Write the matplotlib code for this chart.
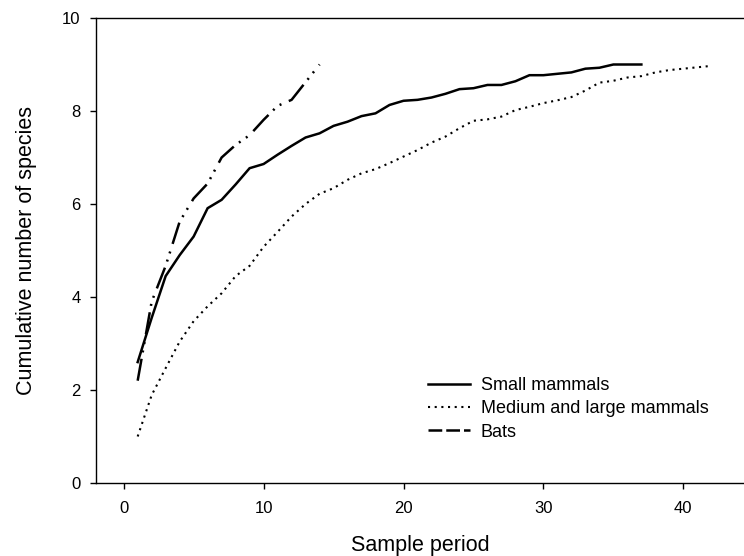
import matplotlib
matplotlib.use("Agg")
import matplotlib.pyplot as plt
from matplotlib.lines import Line2D

plt.rcParams['font.family'] = ['Liberation Sans', 'DejaVu Sans']

# sample periods and cumulative species counts
small_x = list(range(1, 38))
small_y = [2.6, 3.55, 4.45, 4.9, 5.3, 5.91, 6.09, 6.42, 6.77, 6.86,
           7.06, 7.25, 7.43, 7.52, 7.68, 7.77, 7.89, 7.95, 8.13, 8.22,
           8.24, 8.29, 8.37, 8.47, 8.49, 8.56, 8.56, 8.64, 8.77, 8.77,
           8.80, 8.83, 8.91, 8.93, 9.0, 9.0, 9.0]

medium_x = list(range(1, 43))
medium_y = [1.0, 1.89, 2.47, 3.04, 3.48, 3.80, 4.08, 4.45, 4.67, 5.08,
            5.40, 5.73, 6.0, 6.22, 6.34, 6.52, 6.66, 6.75, 6.88, 7.02,
            7.16, 7.32, 7.45, 7.63, 7.79, 7.82, 7.88, 8.02, 8.09, 8.17,
            8.23, 8.30, 8.44, 8.61, 8.65, 8.72, 8.75, 8.83, 8.88, 8.91,
            8.94, 8.97]

bats_x = list(range(1, 15))
bats_y = [2.2, 3.9, 4.67, 5.62, 6.12, 6.44, 7.0, 7.27, 7.48, 7.81,
          8.11, 8.24, 8.62, 9.0]

labels = ['Small mammals', 'Medium and large mammals', 'Bats']

fig = plt.figure(figsize=(7.44, 5.56), dpi=100)
ax = fig.add_axes([95.7 / 744, 73 / 556, (744 - 95.7) / 744, 465 / 556])

dotted = (0, (1.0, 2.2))
dash_dot_dot = (0, (8.9, 2.6, 0.8, 2.6, 0.8, 3.2))

ax.plot(small_x, small_y, color='black', lw=1.8, solid_joinstyle='miter')
ax.plot(medium_x, medium_y, color='black', lw=1.5, linestyle=dotted)
ax.plot(bats_x, bats_y, color='black', lw=1.8, linestyle=dash_dot_dot)

ax.set_xlim(-2, (744 - 123.3) / 14)
ax.set_ylim(0, 10)
ax.set_xticks([0, 10, 20, 30, 40])
ax.set_yticks([0, 2, 4, 6, 8, 10])
ax.spines['right'].set_visible(False)
for s in ['left', 'bottom', 'top']:
    ax.spines[s].set_linewidth(1.0)
ax.tick_params(direction='out', length=4, width=1.0, labelsize=12)
ax.tick_params(axis='x', pad=9)
ax.tick_params(axis='y', pad=7)

ax.set_xlabel('Sample period', fontsize=15.5, labelpad=14)
ax.set_ylabel('Cumulative number of species', fontsize=15.5, labelpad=18)

# legend handles drawn like the original key (bats key shows plain dashes)
handles = [Line2D([], [], color='black', lw=1.8),
           Line2D([], [], color='black', lw=1.5, linestyle=dotted),
           Line2D([], [], color='black', lw=1.8, linestyle=(0, (5.5, 1.6)))]
ax.legend(handles, labels, loc='upper left', frameon=False, fontsize=13,
          bbox_to_anchor=(428 / 744, 1 - 377 / 556), bbox_transform=fig.transFigure,
          borderpad=0, borderaxespad=0, handlelength=2.32, handletextpad=0.59,
          labelspacing=0.35)

fig.savefig('out.png', dpi=100)
